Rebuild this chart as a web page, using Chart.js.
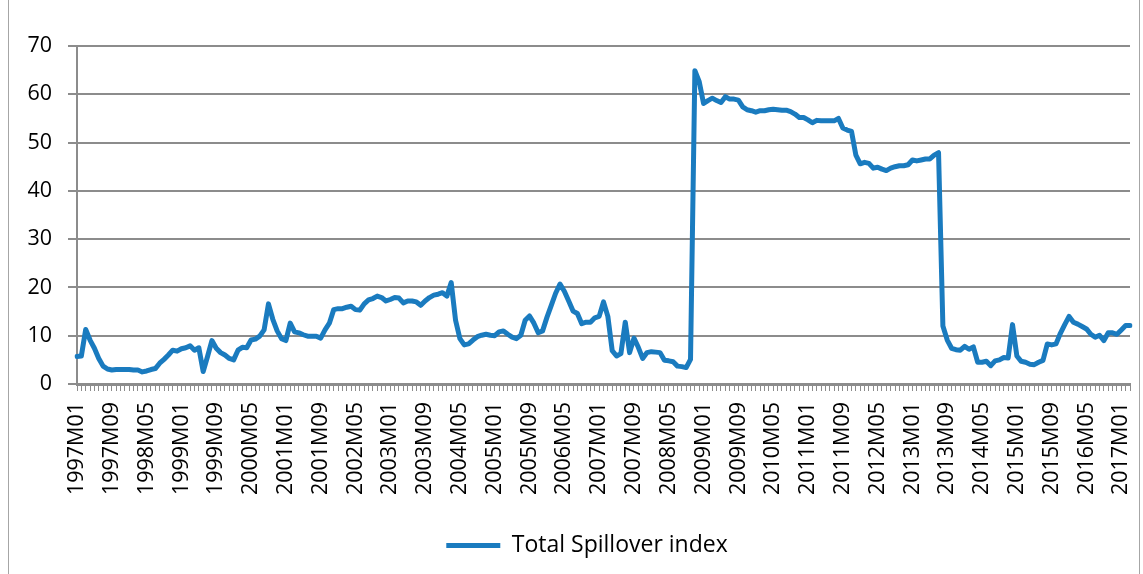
<!DOCTYPE html>
<html>
<head>
<meta charset="utf-8">
<script src="https://cdn.jsdelivr.net/npm/chart.js@4.4.1/dist/chart.umd.min.js"></script>
<style>
  html, body { margin: 0; padding: 0; background: #fff; }
  #frame { position: absolute; left: 8px; top: -2px; width: 1130px; height: 590px; border: 1px solid #a6a6a6; }
  #wrap { position: absolute; left: 0; top: 0; width: 1143px; height: 574px; }
</style>
</head>
<body>
<div id="frame"></div>
<div id="wrap"><canvas id="chart"></canvas></div>
<script>
// monthly index, 1997M01 .. 2017M03
var firstYear = 1997;
var monthCount = 243;

var tickLabels = ['1997M01', '1997M09', '1998M05', '1999M01', '1999M09', '2000M05', '2001M01',
    '2001M09', '2002M05', '2003M01', '2003M09', '2004M05', '2005M01', '2005M09', '2006M05',
    '2007M01', '2007M09', '2008M05', '2009M01', '2009M09', '2010M05', '2011M01', '2011M09',
    '2012M05', '2013M01', '2013M09', '2014M05', '2015M01', '2015M09', '2016M05', '2017M01'];

var spillover = [
    5.7, 5.8, 11.3, 9.1, 7.4, 5.3, 3.7, 3.1, 2.9, 3.0, 3.0, 3.0,
    3.0, 2.9, 2.9, 2.5, 2.7, 3.0, 3.2, 4.3, 5.1, 6.0, 7.0, 6.8,
    7.3, 7.5, 7.9, 7.0, 7.5, 2.6, 5.7, 9.0, 7.4, 6.5, 6.0, 5.3,
    5.0, 7.0, 7.6, 7.5, 9.1, 9.3, 9.9, 11.2, 16.6, 13.4, 11.0, 9.4,
    9.0, 12.6, 10.8, 10.6, 10.2, 9.9, 9.9, 9.9, 9.5, 11.2, 12.6, 15.4,
    15.6, 15.6, 15.9, 16.1, 15.4, 15.3, 16.6, 17.4, 17.7, 18.2, 17.9, 17.2,
    17.5, 17.9, 17.8, 16.8, 17.2, 17.2, 17.0, 16.3, 17.2, 17.9, 18.4, 18.6,
    18.9, 18.2, 21.0, 13.2, 9.4, 8.1, 8.3, 9.1, 9.8, 10.1, 10.3, 10.1,
    10.0, 10.8, 11.0, 10.3, 9.7, 9.4, 10.1, 13.2, 14.1, 12.6, 10.6, 11.0,
    13.8, 16.3, 18.8, 20.7, 19.2, 17.2, 15.1, 14.6, 12.5, 12.8, 12.8, 13.7,
    14.0, 17.0, 14.0, 6.9, 5.8, 6.3, 12.8, 6.5, 9.5, 7.6, 5.3, 6.5,
    6.7, 6.6, 6.5, 4.9, 4.8, 4.6, 3.7, 3.6, 3.4, 5.1, 64.9, 62.6,
    58.1, 58.7, 59.2, 58.7, 58.3, 59.5, 59.0, 59.0, 58.8, 57.4, 56.8, 56.6,
    56.3, 56.6, 56.6, 56.8, 56.9, 56.8, 56.7, 56.7, 56.4, 55.9, 55.2, 55.2,
    54.7, 54.1, 54.6, 54.5, 54.5, 54.5, 54.5, 55.0, 53.0, 52.6, 52.3, 47.4,
    45.6, 45.9, 45.7, 44.7, 44.9, 44.5, 44.2, 44.7, 45.0, 45.2, 45.2, 45.4,
    46.4, 46.2, 46.4, 46.6, 46.6, 47.4, 47.9, 12.0, 9.1, 7.4, 7.1, 7.0,
    7.8, 7.2, 7.7, 4.5, 4.5, 4.7, 3.8, 4.8, 5.0, 5.5, 5.4, 12.3,
    5.8, 4.7, 4.5, 4.1, 4.0, 4.5, 4.9, 8.3, 8.1, 8.3, 10.5, 12.3,
    14.0, 12.8, 12.4, 11.9, 11.4, 10.3, 9.7, 10.1, 9.0, 10.6, 10.6, 10.3,
    11.2, 12.1, 12.1];

var months = [];
for (var i = 0; i < monthCount; i++) {
    var y = firstYear + Math.floor(i / 12);
    var m = (i % 12) + 1;
    months.push(y + 'M' + (m < 10 ? '0' + m : m));
}

var gray = '#8c8c8c';
var font = 'Open Sans';

// nudge the legend a bit to the right, like the original
var shiftLegend = {
    id: 'shiftLegend',
    afterLayout: function (chart) {
        chart.legend.left += 22;
        chart.legend.right += 22;
    }
};

new Chart(document.getElementById('chart'), {
    type: 'line',
    data: {
        labels: months,
        datasets: [{
            label: 'Total Spillover index',
            data: spillover,
            borderColor: '#1a7bbf',
            backgroundColor: '#1a7bbf',
            borderWidth: 5,
            borderJoinStyle: 'round',
            borderCapStyle: 'round',
            pointRadius: 0,
            tension: 0
        }]
    },
    plugins: [shiftLegend],
    options: {
        responsive: true,
        maintainAspectRatio: false,
        animation: false,
        layout: { padding: { left: 0, right: 13, top: 46, bottom: 7 } },
        scales: {
            x: {
                afterFit: function (s) {
                    s.height = 140;
                    s.paddingLeft = 0;
                    s.paddingRight = 0;
                },
                grid: { drawOnChartArea: false, drawTicks: true, tickLength: 7, color: gray, lineWidth: 1 },
                border: { display: true, color: gray, width: 3 },
                ticks: {
                    autoSkip: false,
                    minRotation: 90,
                    maxRotation: 90,
                    padding: 11,
                    color: '#000',
                    font: { family: font, size: 21.5 },
                    callback: function (v, idx) {
                        var lab = months[idx];
                        return tickLabels.includes(lab) ? lab : '';
                    }
                }
            },
            y: {
                min: 0,
                max: 70,
                afterFit: function (s) { s.width = 77; },
                grid: { color: gray, lineWidth: 2, tickLength: 9 },
                border: { display: true, color: gray, width: 2 },
                ticks: {
                    stepSize: 10,
                    padding: 16,
                    color: '#000',
                    font: { family: font, size: 21.5 }
                }
            }
        },
        plugins: {
            tooltip: { enabled: false },
            legend: {
                position: 'bottom',
                labels: {
                    usePointStyle: true,
                    pointStyle: 'line',
                    pointStyleWidth: 54,
                    color: '#000',
                    padding: 10,
                    font: { family: font, size: 23 }
                }
            }
        }
    }
});
</script>
</body>
</html>
